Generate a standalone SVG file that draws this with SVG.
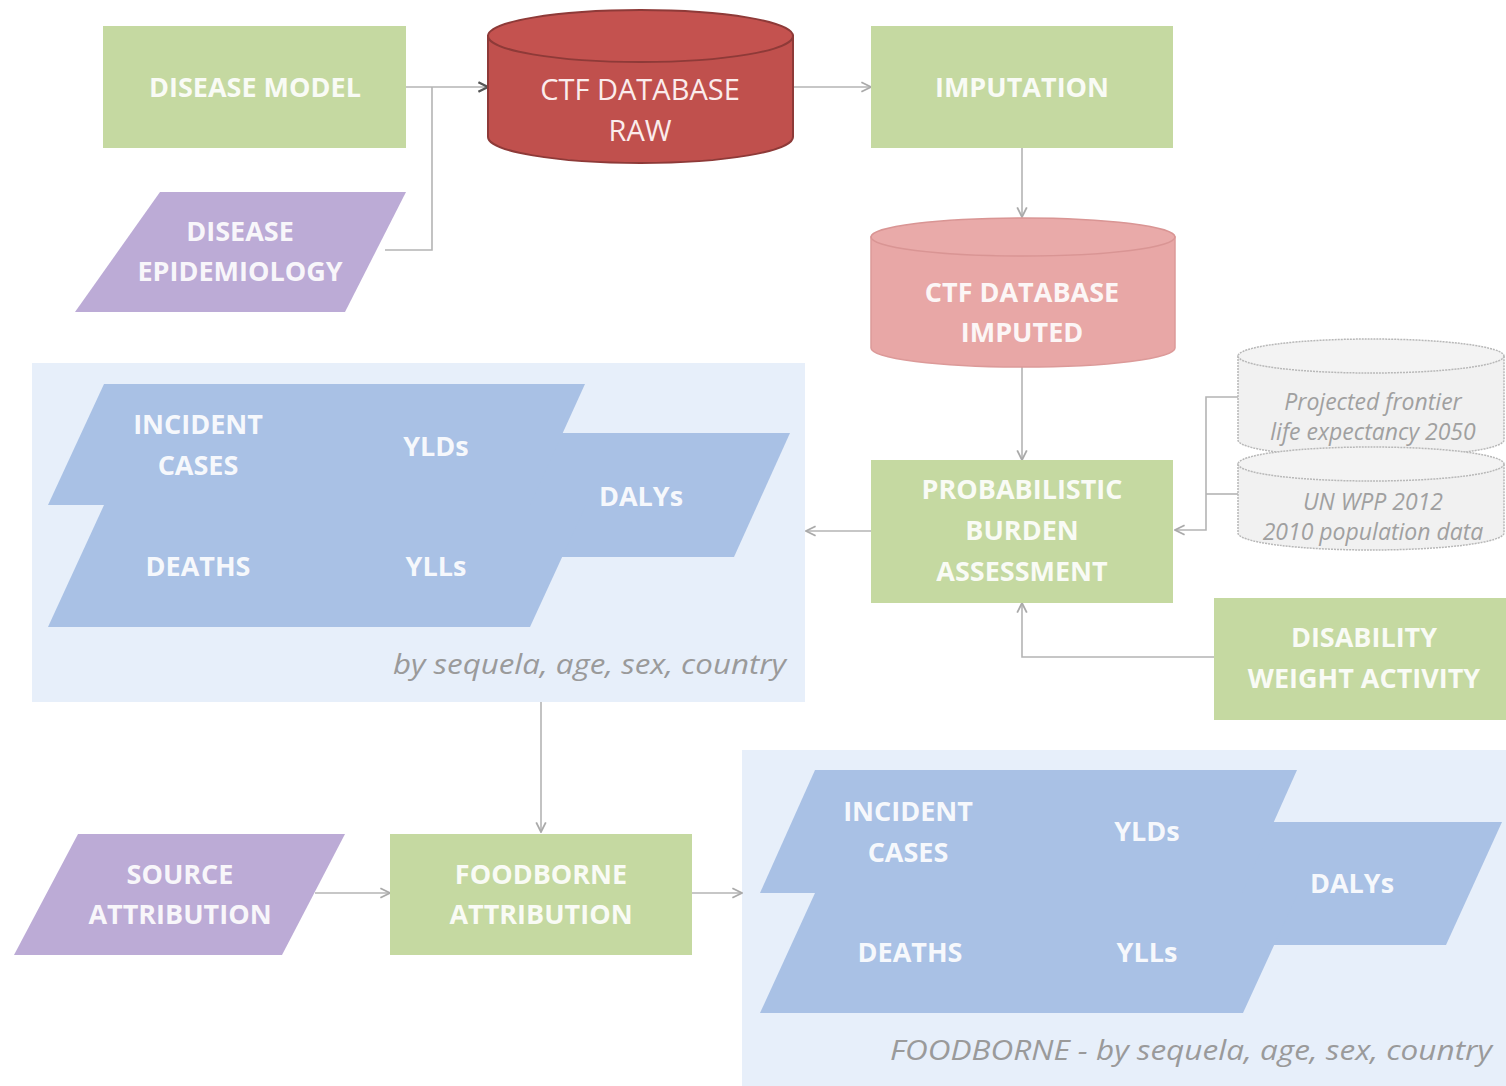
<svg xmlns="http://www.w3.org/2000/svg" width="1506" height="1086" viewBox="0 0 1506 1086">
<style>
.lbl{font-family:"Open Sans","Liberation Sans",sans-serif;font-weight:700;font-size:27px;fill:#ffffff;text-anchor:middle;opacity:0.9}
.lblR{font-family:"Open Sans","Liberation Sans",sans-serif;font-size:29px;fill:#fbecec;text-anchor:middle}
.gray{font-family:"Open Sans","Liberation Sans",sans-serif;font-style:italic;font-size:23px;fill:#a0a0a0;text-anchor:middle}
.cap{font-family:"Open Sans","Liberation Sans",sans-serif;font-style:italic;font-size:28px;fill:#9a9a9a;text-anchor:end}
.green{fill:#c5d9a1}
.purple{fill:#bcabd6}
.blue{fill:#a9c1e5}
.panel{fill:#e7effa}
.conn{fill:none;stroke:#b4b4b4;stroke-width:1.6}
</style>
<defs>
<marker id="ah" viewBox="0 0 10 10" refX="9" refY="5" markerWidth="12" markerHeight="12" markerUnits="userSpaceOnUse" orient="auto">
<path d="M1,1 L9,5 L1,9" fill="none" stroke="#aaaaaa" stroke-width="1.5"/>
</marker>
<marker id="ahd" viewBox="0 0 10 10" refX="9" refY="5" markerWidth="12" markerHeight="12" markerUnits="userSpaceOnUse" orient="auto">
<path d="M1,1 L9,5 L1,9" fill="none" stroke="#555555" stroke-width="2"/>
</marker>
</defs>
<rect width="1506" height="1086" fill="#ffffff"/>

<g id="panel-results">
<rect class="panel" x="32" y="363" width="773" height="339"/>
</g>
<g id="panel-foodborne">
<rect class="panel" x="742" y="750" width="770" height="340"/>
</g>

<g id="connectors">
<path class="conn" d="M406,87 H488" stroke="#777" marker-end="url(#ahd)"/>
<path class="conn" d="M385,250 H432 V87"/>
<path class="conn" d="M793,87 H871" marker-end="url(#ah)"/>
<path class="conn" d="M1022,148 V217" marker-end="url(#ah)"/>
<path class="conn" d="M1022,367 V460" marker-end="url(#ah)"/>
<path class="conn" d="M1238,397 H1206 V530 H1175" marker-end="url(#ah)"/>
<path class="conn" d="M1238,494 H1206"/>
<path class="conn" d="M1214,657 H1022 V603" marker-end="url(#ah)"/>
<path class="conn" d="M871,531 H806" marker-end="url(#ah)"/>
<path class="conn" d="M541,702 V832" marker-end="url(#ah)"/>
<path class="conn" d="M315,893 H390" marker-end="url(#ah)"/>
<path class="conn" d="M692,893 H742" marker-end="url(#ah)"/>
</g>

<g id="disease-model">
<rect class="green" x="103" y="26" width="303" height="122"/>
<text class="lbl" x="255" y="97">DISEASE MODEL</text>
</g>

<g id="disease-epidemiology">
<polygon class="purple" points="160,192 406,192 345,312 75,312"/>
<text class="lbl" x="240" y="241">DISEASE</text>
<text class="lbl" x="240" y="281">EPIDEMIOLOGY</text>
</g>

<g id="ctf-raw">
<path d="M488,36 V137 A152.5,26 0 0 0 793,137 V36 Z" fill="#c0504d" stroke="#8e3a38" stroke-width="2"/>
<ellipse cx="640.5" cy="36" rx="152.5" ry="26" fill="#c4524f" stroke="#8e3a38" stroke-width="2"/>
<text class="lblR" x="640" y="100">CTF DATABASE</text>
<text class="lblR" x="640" y="141">RAW</text>
</g>

<g id="imputation">
<rect class="green" x="871" y="26" width="302" height="122"/>
<text class="lbl" x="1022" y="97">IMPUTATION</text>
</g>

<g id="ctf-imputed">
<path d="M871,237 V348 A152,19 0 0 0 1175,348 V237 Z" fill="#e8a7a6" stroke="#dc9a99" stroke-width="1.5"/>
<ellipse cx="1023" cy="237" rx="152" ry="19" fill="#e9aaa9" stroke="#d99594" stroke-width="1.5"/>
<text class="lbl" x="1022" y="302">CTF DATABASE</text>
<text class="lbl" x="1022" y="342">IMPUTED</text>
</g>

<g id="probabilistic-burden">
<rect class="green" x="871" y="460" width="302" height="143"/>
<text class="lbl" x="1022" y="499">PROBABILISTIC</text>
<text class="lbl" x="1022" y="540">BURDEN</text>
<text class="lbl" x="1022" y="581">ASSESSMENT</text>
</g>

<g id="life-expectancy">
<path d="M1238,356 V440 A133,17 0 0 0 1504,440 V356 Z" fill="#f1f1f1" stroke="#b8b8b8" stroke-width="1.5" stroke-dasharray="2,1"/>
<ellipse cx="1371" cy="356" rx="133" ry="17" fill="#f3f3f3" stroke="#b8b8b8" stroke-width="1.5" stroke-dasharray="2,1"/>
<text class="gray" x="1373" y="410">Projected frontier</text>
<text class="gray" x="1373" y="440">life expectancy 2050</text>
</g>

<g id="un-wpp">
<path d="M1238,464 V533 A133,17 0 0 0 1504,533 V464 Z" fill="#f1f1f1" stroke="#b8b8b8" stroke-width="1.5" stroke-dasharray="2,1"/>
<ellipse cx="1371" cy="464" rx="133" ry="17" fill="#f3f3f3" stroke="#b8b8b8" stroke-width="1.5" stroke-dasharray="2,1"/>
<text class="gray" x="1373" y="510">UN WPP 2012</text>
<text class="gray" x="1373" y="540">2010 population data</text>
</g>

<g id="disability-weight">
<rect class="green" x="1214" y="598" width="292" height="122"/>
<text class="lbl" x="1364" y="647">DISABILITY</text>
<text class="lbl" x="1364" y="688">WEIGHT ACTIVITY</text>
</g>

<g id="results">
<polygon class="blue" points="520,433 790,433 734,557 464,557"/>
<polygon class="blue" points="104,384 585,384 530,505 48,505"/>
<polygon class="blue" points="104,505 586,505 530,627 48,627"/>
<text class="lbl" x="198" y="434">INCIDENT</text>
<text class="lbl" x="198" y="475">CASES</text>
<text class="lbl" x="436" y="456">YLDs</text>
<text class="lbl" x="641" y="506">DALYs</text>
<text class="lbl" x="198" y="576">DEATHS</text>
<text class="lbl" x="436" y="576">YLLs</text>
<text class="cap" x="786" y="674" textLength="393" lengthAdjust="spacingAndGlyphs">by sequela, age, sex, country</text>
</g>

<g id="source-attribution">
<polygon class="purple" points="78,834 345,834 282,955 14,955"/>
<text class="lbl" x="180" y="884">SOURCE</text>
<text class="lbl" x="180" y="924">ATTRIBUTION</text>
</g>

<g id="foodborne-attribution">
<rect class="green" x="390" y="834" width="302" height="121"/>
<text class="lbl" x="541" y="884">FOODBORNE</text>
<text class="lbl" x="541" y="924">ATTRIBUTION</text>
</g>

<g id="foodborne-results">
<polygon class="blue" points="1232,822 1502,822 1446,945 1176,945"/>
<polygon class="blue" points="815,770 1297,770 1242,893 760,893"/>
<polygon class="blue" points="815,893 1298,893 1243,1013 760,1013"/>
<text class="lbl" x="908" y="821">INCIDENT</text>
<text class="lbl" x="908" y="862">CASES</text>
<text class="lbl" x="1147" y="841">YLDs</text>
<text class="lbl" x="1352" y="893">DALYs</text>
<text class="lbl" x="910" y="962">DEATHS</text>
<text class="lbl" x="1147" y="962">YLLs</text>
<text class="cap" x="1492" y="1060" textLength="602" lengthAdjust="spacingAndGlyphs">FOODBORNE - by sequela, age, sex, country</text>
</g>
</svg>
